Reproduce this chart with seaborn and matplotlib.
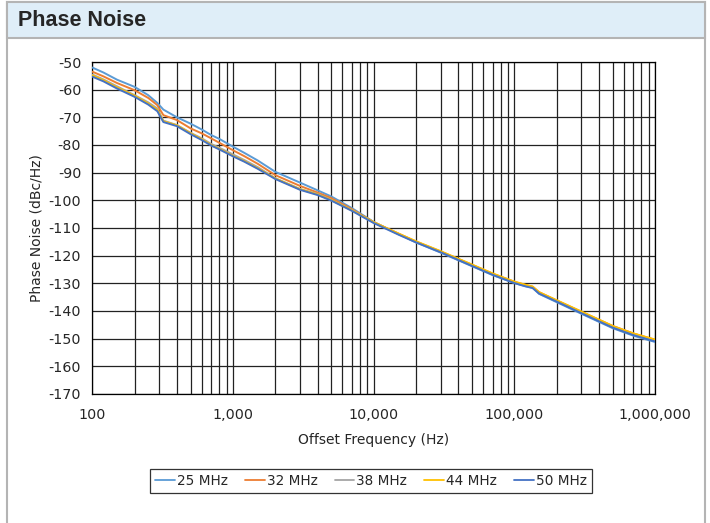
import matplotlib
matplotlib.use("Agg")
import matplotlib.pyplot as plt
import matplotlib.ticker as mticker
from matplotlib.patches import Rectangle
import pandas as pd
import seaborn as sns

# offset frequencies (Hz) and phase noise (dBc/Hz)
freq = [100, 120, 150, 200, 250, 290, 320, 400, 500, 600, 700, 800, 1000, 1200, 1500,
        2000, 3000, 4000, 5000, 7000, 10000, 15000, 20000, 30000, 50000, 70000,
        100000, 120000, 135000, 150000, 200000, 300000, 500000, 700000, 1000000]

pn_25 = [-52.0, -53.8, -56.4, -59.0, -62.0, -64.8, -67.2, -70.0, -72.3, -74.4, -76.4, -77.8,
         -80.6, -82.8, -85.6, -89.7, -93.6, -96.4, -98.6, -102.8, -107.8, -112.2, -115.2,
         -118.9, -123.8, -127.0, -129.9, -131.0, -131.6, -133.8, -136.8, -141.0, -146.2,
         -148.9, -151.2]
pn_32 = [-53.5, -55.2, -57.6, -60.2, -63.0, -65.6, -69.2, -71.0, -74.0, -75.8, -77.6, -79.2,
         -81.9, -84.0, -86.8, -90.9, -94.8, -97.2, -99.2, -103.2, -107.9, -112.0, -114.9,
         -118.5, -123.3, -126.5, -129.4, -130.6, -131.2, -133.2, -136.2, -140.3, -145.4,
         -148.1, -150.4]
pn_38 = [-54.5, -56.3, -58.8, -62.0, -64.6, -66.8, -71.2, -72.8, -75.6, -77.6, -79.6, -81.0,
         -83.4, -85.4, -88.0, -92.0, -95.9, -97.7, -99.8, -103.5, -108.0, -112.2, -115.0,
         -118.6, -123.4, -126.6, -129.6, -130.8, -131.4, -133.4, -136.3, -140.4, -145.6,
         -148.3, -150.6]
pn_44 = [-54.8, -56.6, -59.2, -62.2, -65.0, -67.3, -71.4, -72.9, -75.8, -77.9, -80.0, -81.4,
         -83.9, -85.8, -88.4, -92.1, -96.0, -97.9, -99.9, -103.6, -107.9, -112.0, -114.8,
         -118.4, -123.2, -126.4, -129.4, -130.5, -131.2, -133.2, -136.1, -140.2, -145.4,
         -148.1, -150.3]
pn_50 = [-55.3, -57.0, -59.6, -62.6, -65.4, -67.8, -71.7, -73.2, -76.1, -78.2, -80.2, -81.6,
         -84.1, -86.0, -88.6, -92.3, -96.2, -98.1, -100.1, -103.8, -108.2, -112.4, -115.2,
         -118.8, -123.7, -126.9, -129.9, -131.1, -131.7, -133.7, -136.6, -140.8, -146.0,
         -148.7, -151.0]

series = ["25 MHz", "32 MHz", "38 MHz", "44 MHz", "50 MHz"]
colors = ["#5B9BD5", "#ED7D31", "#A5A5A5", "#FFC000", "#4472C4"]

y_ticks = list(range(-170, -40, 10))
x_ticks = [100, 1000, 10000, 100000, 1000000]

frames = []
for name, vals in zip(series, [pn_25, pn_32, pn_38, pn_44, pn_50]):
    frames.append(pd.DataFrame({"freq": freq, "pn": vals, "series": name}))
df = pd.concat(frames, ignore_index=True)

sns.set_style("white")
plt.rcParams["font.family"] = ["DejaVu Sans"]
plt.rcParams["axes.unicode_minus"] = False

fig = plt.figure(figsize=(7.1, 5.23), dpi=100)

# outer frame and title band on a background axes
bg = fig.add_axes([0, 0, 1, 1], zorder=0)
bg.set_xlim(0, 710)
bg.set_ylim(523, 0)
bg.axis("off")
bg.add_patch(Rectangle((7, 2), 698, 530, facecolor="white", edgecolor="#B4B4B4", lw=1.5))
bg.add_patch(Rectangle((7, 2), 698, 36, facecolor="#DFEEF8", edgecolor="#B4B4B4", lw=1.5))
bg.text(18, 21, "Phase Noise", fontsize=15.5, fontweight="bold",
        family="Liberation Sans", va="center", ha="left")

ax = fig.add_axes([92.3 / 710, 1 - 394 / 523, (655 - 92.3) / 710, (394 - 62) / 523], zorder=2)
ax.patch.set_alpha(0)

sns.lineplot(data=df, x="freq", y="pn", hue="series", palette=colors,
             hue_order=series, lw=1.4, ax=ax, legend=False, zorder=3)

ax.set_xscale("log")
ax.set_xlim(100, 1000000)
ax.set_ylim(-170, -50)
ax.set_yticks(y_ticks)
ax.set_xticks(x_ticks)
ax.xaxis.set_major_formatter(mticker.FuncFormatter(lambda v, p: f"{int(round(v)):,}"))
ax.xaxis.set_minor_locator(mticker.LogLocator(base=10, subs=range(2, 10)))
ax.xaxis.set_minor_formatter(mticker.NullFormatter())

ax.grid(True, which="both", axis="x", color="#222222", lw=0.9)
ax.grid(True, which="major", axis="y", color="#222222", lw=0.9)
ax.tick_params(axis="both", which="major", direction="out", length=4, width=0.9,
               color="black", labelsize=10.3, pad=4)
ax.tick_params(axis="x", which="minor", length=0)
ax.tick_params(axis="x", which="major", pad=6)
for s in ax.spines.values():
    s.set_color("black")
    s.set_linewidth(0.9)

ax.set_xlabel("Offset Frequency (Hz)", fontsize=10, labelpad=8)
ax.set_ylabel("Phase Noise (dBc/Hz)", fontsize=10, labelpad=4)

handles = [plt.Line2D([], [], color=c, lw=1.3) for c in colors]
leg = fig.legend(handles, series, loc="center", bbox_to_anchor=(371 / 710, 1 - 481 / 523),
                 ncol=5, fontsize=9.8, frameon=True, fancybox=False, handlelength=1.45,
                 handletextpad=0.15, columnspacing=1.25, borderpad=0.35)
leg.get_frame().set_edgecolor("black")
leg.get_frame().set_linewidth(0.9)
leg.set_zorder(5)

fig.savefig("out.png", dpi=100)
